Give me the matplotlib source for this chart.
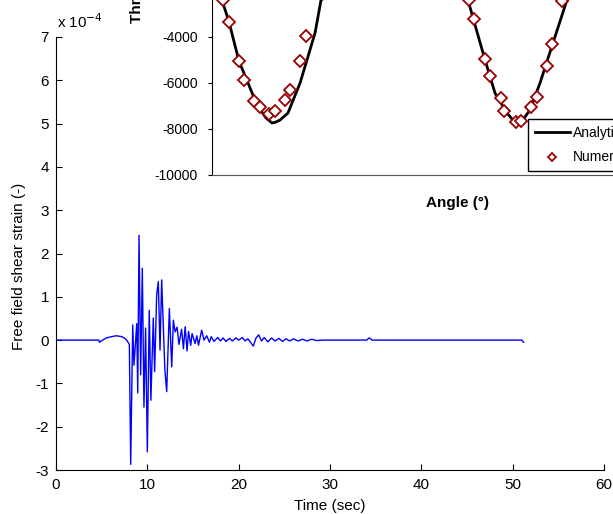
import numpy as np
import matplotlib
matplotlib.use("Agg")
import matplotlib.pyplot as plt

plt.rcParams['font.family'] = ['Liberation Sans', 'DejaVu Sans']
plt.rcParams['axes.unicode_minus'] = False

# main chart: free field shear strain (units of 1e-4) vs time
time_s = [0, 4.7, 4.75, 5.1, 5.5, 6.1, 6.6, 7.2, 7.6, 7.8, 8.03, 8.18, 8.40, 8.54,
          8.84, 8.95, 9.09, 9.27, 9.45, 9.63, 9.81, 10.0, 10.21, 10.39, 10.65, 10.80,
          11.02, 11.20, 11.39, 11.57, 11.92, 12.12, 12.41, 12.67, 12.85, 13.04, 13.26,
          13.46, 13.75, 13.95, 14.14, 14.35, 14.51, 14.75, 14.9, 15.23, 15.42, 15.6,
          15.95, 16.2, 16.5, 16.8, 17.0, 17.3, 17.7, 18.0, 18.3, 18.6, 19.0, 19.3,
          19.7, 20.0, 20.4, 20.7, 21.0, 21.3, 21.6, 21.9, 22.2, 22.5, 22.8, 23.2,
          23.6, 24.0, 24.4, 24.8, 25.2, 25.6, 26.0, 26.5, 27.0, 27.5, 28.0, 28.5,
          29.2, 30.0, 34.0, 34.3, 34.6, 40.0, 45.0, 51.0, 51.2]
strain_e4 = [0, 0, -0.05, 0.0, 0.05, 0.08, 0.1, 0.08, 0.03, -0.02, -0.1, -2.87, 0.35, -0.58,
             0.38, -1.22, 2.42, -0.8, 1.66, -1.55, 0.28, -2.58, 0.69, -1.39, 0.51, -0.73,
             1.04, 1.35, -0.23, 1.39, -0.69, -1.19, 0.73, -0.62, 0.46, 0.19, 0.3,
             -0.1, 0.25, -0.2, 0.31, -0.25, 0.2, -0.12, 0.15, -0.08, 0.1, -0.12,
             0.23, 0.0, 0.1, -0.05, 0.08, -0.03, 0.06, -0.02, 0.05, -0.03, 0.04, -0.02,
             0.05, 0.0, 0.06, -0.02, 0.03, -0.05, -0.14, 0.05, 0.12, -0.02, 0.06, -0.04,
             0.05, -0.02, 0.04, -0.03, 0.03, -0.02, 0.03, -0.02, 0.02, -0.02, 0.02, -0.01,
             0.0, 0.0, 0.0, 0.05, 0.0, 0.0, 0.0, 0.0, -0.05]
x_ticks = [0, 10, 20, 30, 40, 50, 60]
y_ticks = [-3, -2, -1, 0, 1, 2, 3, 4, 5, 6, 7]

# inset: thrust vs angle
ana_angle = [0, 7.3, 12.5, 19.8, 31.6, 36.7, 39.7, 44.1, 47.0, 50.0, 55.8, 64.7, 75.7, 80.1,
             134, 188.1, 191.8, 200.6, 207.9, 216.7, 220.4, 224.1, 227.8, 233.6, 241.0,
             250.5, 260.8, 300]
ana_thrust = [-1300, -2391, -3348, -5043, -6739, -7261, -7522, -7739, -7696, -7609, -7304,
              -6000, -3826, -2391, -600, -2391, -3174, -5000, -6435, -7304, -7565, -7739,
              -7652, -7174, -6000, -4261, -2391, -800]
num_angle = [8.1, 12.5, 19.8, 23.5, 30.9, 35.3, 41.9, 46.3, 53.6, 57.3, 64.7, 69.1,
             188.8, 192.5, 200.6, 204.2, 212.3, 214.5, 223.3, 227.0, 234.4, 238.8,
             246.1, 249.8, 257.1]
num_thrust = [-2391, -3348, -5043, -5870, -6783, -7043, -7348, -7217, -6739, -6304, -5043,
              -3957, -2391, -3217, -4957, -5696, -6652, -7217, -7696, -7652, -7043,
              -6609, -5261, -4304, -2435]
inset_yticks = [-10000, -8000, -6000, -4000]

W, H = 613, 514
fig = plt.figure(figsize=(W / 100, H / 100), dpi=100)

# main axes (MATLAB style)
ax = fig.add_axes([56 / W, 44 / H, 548 / W, 433 / H])
ax.plot(time_s, strain_e4, color='#0000ff', linewidth=1.0)
ax.set_xlim(0, 60)
ax.set_ylim(-3, 7)
ax.set_xticks(x_ticks)
ax.set_yticks(y_ticks)
ax.spines['top'].set_visible(False)
ax.spines['right'].set_visible(False)
ax.tick_params(direction='in', length=4, labelsize=11)
ax.tick_params(axis='x', pad=6)
ax.tick_params(axis='y', pad=5)
ax.set_xlabel('Time (sec)', fontsize=11, labelpad=5)
ax.set_ylabel('Free field shear strain (-)', fontsize=11)
ax.yaxis.set_label_coords(-0.055, 0.47)
fig.text(57 / W, 1 - 28 / H, 'x 10$^{-4}$', fontsize=11, ha='left', va='baseline')

# inset (Excel style), partly outside the figure
ins = fig.add_axes([212 / W, 339 / H, 490 / W, 230 / H])
ins.plot(ana_angle, ana_thrust, color='black', linewidth=2.0, label='Analytical')
ins.plot(num_angle, num_thrust, linestyle='none', marker='D', markersize=6,
         markerfacecolor='white', markeredgecolor='#990000', markeredgewidth=1.3,
         label='Numerical')
ins.set_xlim(0, 360)
ins.set_ylim(-10000, 0)
ins.set_yticks(inset_yticks)
ins.set_xticks([])
ins.spines['top'].set_visible(False)
ins.spines['right'].set_visible(False)
ins.spines['bottom'].set_color('#555555')
ins.tick_params(axis='y', direction='out', length=3, labelsize=10, pad=7)
fig.text(457 / W, 1 - 203 / H, 'Angle (°)', fontsize=11, fontweight='bold',
         ha='center', va='center')
fig.text(137 / W, 1 - 23 / H, 'Thrust (N)', fontsize=11, fontweight='bold',
         rotation=90, ha='center', va='bottom')
leg = ins.legend(loc='upper left', bbox_to_anchor=(528 / W, 1 - 119 / H),
                 bbox_transform=fig.transFigure, fontsize=10, frameon=True,
                 fancybox=False, framealpha=1, edgecolor='black', borderpad=0.5,
                 handlelength=2.5, handletextpad=0.25, labelspacing=0.75,
                 borderaxespad=0, numpoints=1)
leg.get_frame().set_linewidth(1.0)
leg.legend_handles[1].set_markersize(4.5)

fig.savefig('out.png', dpi=100)
